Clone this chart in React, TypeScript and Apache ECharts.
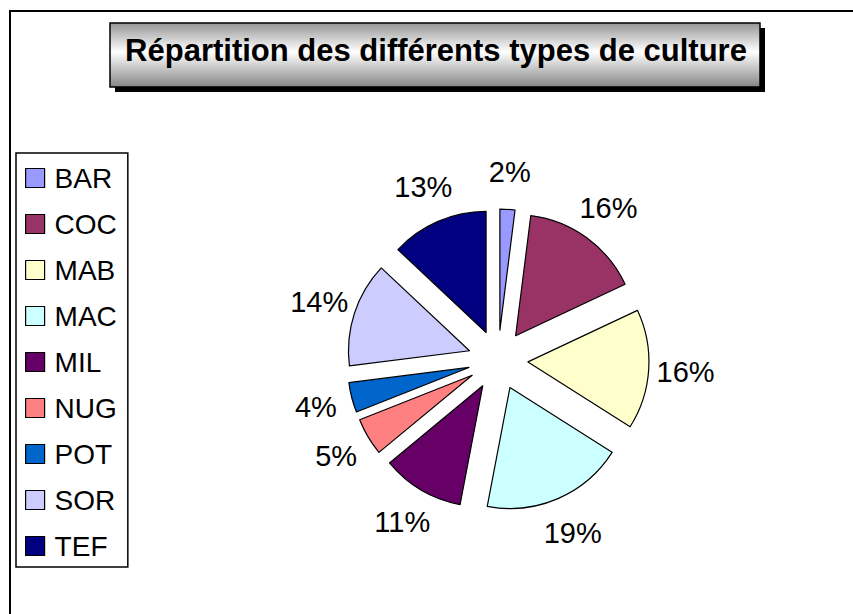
import React, { useEffect, useRef } from "react";
import * as echarts from "echarts";

const categories = ["BAR", "COC", "MAB", "MAC", "MIL", "NUG", "POT", "SOR", "TEF"];
const shares = [2, 16, 16, 19, 11, 5, 4, 14, 13];
const colors = ["#9999FF", "#993366", "#FFFFCC", "#CCFFFF", "#660066", "#FF8080", "#0066CC", "#CCCCFF", "#000080"];
const titleText = "Répartition des différents types de culture";

const FONT = "'Liberation Sans', Arial, Helvetica, sans-serif";

export default function App() {
  const ref = useRef<HTMLDivElement>(null);
  useEffect(() => {
    if (!ref.current) return;
    const chart = echarts.init(ref.current, null, { renderer: "svg" });
    const data = categories.map((name, i) => ({
      name,
      value: shares[i],
      selected: true,
      itemStyle: { color: colors[i] },
    }));
    chart.setOption({
      animation: false,
      backgroundColor: "#ffffff",
      title: {
        text: titleText,
        left: 436,
        top: 35,
        textAlign: "center",
        padding: 0,
        textStyle: { fontFamily: FONT, fontSize: 31, fontWeight: "bold", color: "#000" },
        z: 10,
      },
      graphic: [
        {
          type: "rect",
          shape: { x: 10, y: 11, width: 900, height: 700 },
          style: { fill: "none", stroke: "#000", lineWidth: 2 },
          z: 0,
        },
        {
          type: "rect",
          shape: { x: 115, y: 28, width: 650, height: 64 },
          style: { fill: "#000" },
          z: 1,
        },
        {
          type: "rect",
          shape: { x: 110, y: 23, width: 650, height: 64 },
          style: {
            fill: new echarts.graphic.LinearGradient(0, 0, 0, 1, [
              { offset: 0, color: "#959595" },
              { offset: 0.45, color: "#ffffff" },
              { offset: 1, color: "#858585" },
            ]),
            stroke: "#000",
            lineWidth: 1.5,
          },
          z: 2,
        },
      ],
      legend: {
        orient: "vertical",
        left: 16,
        top: 153,
        padding: [11, 11, 7, 9],
        itemGap: 18,
        itemWidth: 19,
        itemHeight: 19,
        icon: "rect",
        borderColor: "#000",
        borderWidth: 1.5,
        selectedMode: false,
        itemStyle: { borderColor: "#000", borderWidth: 1.2 },
        textStyle: { fontFamily: FONT, fontSize: 28, lineHeight: 28, color: "#000", padding: [0, 0, 0, 5] },
        data: categories,
      },
      series: [
        {
          type: "pie",
          center: [498, 360],
          radius: 121,
          startAngle: 90,
          clockwise: true,
          selectedMode: "multiple",
          selectedOffset: 30,
          avoidLabelOverlap: false,
          itemStyle: { borderColor: "#000", borderWidth: 1.2 },
          select: { itemStyle: { borderColor: "#000", borderWidth: 1.2 } },
          emphasis: { disabled: true },
          label: {
            show: true,
            position: "outside",
            formatter: "{d}%",
            fontFamily: FONT,
            fontSize: 29,
            color: "#000",
            distanceToLabelLine: 0,
          },
          labelLine: { show: false, length: 37, length2: 0 },
          labelLayout: { align: "center", verticalAlign: "middle" },
          data,
        },
      ],
    });
    return () => chart.dispose();
  }, []);
  return (
    <div
      ref={ref}
      style={{ position: "absolute", left: 0, top: 0, width: 853, height: 614 }}
    />
  );
}
